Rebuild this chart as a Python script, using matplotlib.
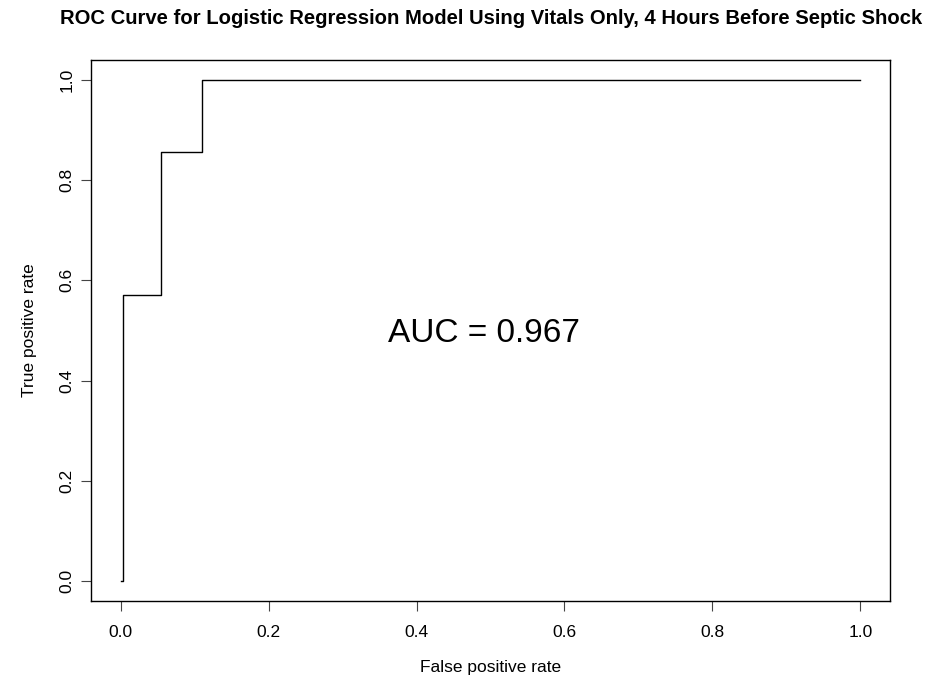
import numpy as np
import matplotlib
matplotlib.use("Agg")
import matplotlib.pyplot as plt

plt.rcParams['font.family'] = ['Liberation Sans', 'DejaVu Sans']

# ROC points (7 positive cases)
fpr = [0.0, 0.0036, 0.0036, 0.0036, 0.0036, 0.0036, 0.0545, 0.0545, 0.0545, 0.110, 0.110, 1.0]
tpr = [0.0, 0.0, 1/7, 2/7, 3/7, 4/7, 4/7, 5/7, 6/7, 6/7, 1.0, 1.0]
auc = 0.967

x_ticks = [0.0, 0.2, 0.4, 0.6, 0.8, 1.0]
y_ticks = [0.0, 0.2, 0.4, 0.6, 0.8, 1.0]

fig = plt.figure(figsize=(9.3, 6.84), dpi=100)
ax = fig.add_axes([91/930, 1 - 601/684, (890 - 91)/930, (601 - 60)/684])

ax.plot(fpr, tpr, color='black', linewidth=1.0)
ax.set_xlim(-0.04, 1.04)
ax.set_ylim(-0.04, 1.04)

ax.set_xticks(x_ticks)
ax.set_yticks(y_ticks)
ax.set_xticklabels(["%.1f" % v for v in x_ticks], fontsize=12.5)
ax.set_yticklabels(["%.1f" % v for v in y_ticks], fontsize=12.5, rotation=90, va='center')
ax.tick_params(axis='x', direction='out', length=7, width=0.8, color='#444444', pad=10)
ax.tick_params(axis='y', direction='out', length=7, width=0.8, color='#444444', pad=5)

for s in ax.spines.values():
    s.set_linewidth(1.0)

ax.set_xlabel("False positive rate", fontsize=12.5, labelpad=15)
ax.set_ylabel("True positive rate", fontsize=12.5, labelpad=16)
fig.suptitle("ROC Curve for Logistic Regression Model Using Vitals Only, 4 Hours Before Septic Shock",
             fontsize=14.6, fontweight='bold', x=(60 + 922) / 2 / 930, y=1 - 19/684, va='center')

ax.text(0.491, 0.495, "AUC = %.3f" % auc, fontsize=24, ha='center', va='center')

fig.savefig("out.png", dpi=100)
